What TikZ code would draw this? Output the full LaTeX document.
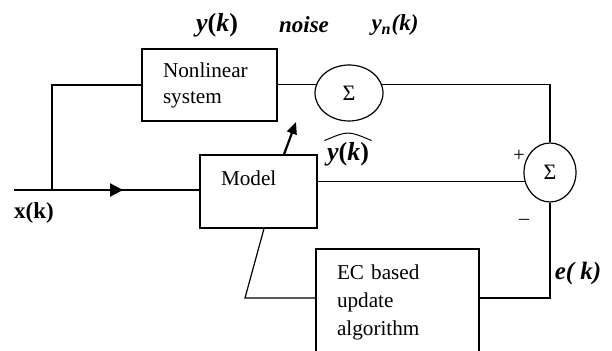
\documentclass[tikz,border=0pt]{standalone}
\usepackage{fontspec}
\setmainfont{Liberation Serif}
\usetikzlibrary{shapes.geometric,arrows.meta}
\tikzset{
  block/.style  = {shape=rectangle, draw, line width=0.6pt, align=left,
                   inner xsep=10.5pt, font=\fontsize{10.6}{13}\selectfont},
  summer/.style = {shape=ellipse, draw, line width=0.6pt, inner sep=0pt,
                   font=\fontsize{11}{12}\selectfont},
  lbl/.style    = {inner sep=0pt, font=\fontsize{11.5}{13}\selectfont\bfseries},
  biglbl/.style = {lbl, font=\fontsize{13}{14}\selectfont\bfseries},
  sign/.style   = {inner sep=0pt, font=\fontsize{10}{12}\selectfont}
}

\begin{document}
\begin{tikzpicture}[x=0.5pt, y=-0.5pt, line width=0.6pt]
  \useasboundingbox (0,0) rectangle (612,351);
  \clip (0,0) rectangle (612,351);
  % blocks
  \node [block, minimum width=67.5pt, minimum height=36pt, text width=46.5pt]
        (nl) at (209.5,85) {Nonlinear\\system};
  \node [block, minimum width=58.5pt, minimum height=36.5pt, text width=37.5pt]
        (model) at (258.5,191.5) {Model\\~};
  \node [block, minimum width=81.5pt, minimum height=53.5pt, text width=60.5pt,
         font=\fontsize{10.6}{14}\selectfont]
        (ec) at (397.5,302.5) {EC based\\update\\algorithm};
  \node [summer, minimum width=34pt, minimum height=28pt] (sum1) at (349,93) {Σ};
  \node [summer, minimum width=26pt, minimum height=29.5pt] (sum2) at (550,172.5) {Σ};
  % labels
  \node [biglbl] (yk)    at (217,25)  {\textit{y}(\textit{k})};
  \node [lbl] (noise) at (304,25)  {\textit{noise}};
  \node [lbl] (yn)    at (395,25)  {\textit{y\textsubscript{n}(k)}};
  \node [biglbl] (yhat)  at (348,154) {\textit{y}(\textit{k})};
  \draw [line width=0.5pt] ([shift={(-1pt,0.5pt)}]yhat.north west)
        .. controls ([yshift=5.5pt]yhat.north) .. ([shift={(1pt,0.5pt)}]yhat.north east);
  \node [lbl] (xk)    at (34,213)  {x(k)};
  \node [lbl, font=\fontsize{12.5}{14}\selectfont\bfseries] (ek) at (578,273) {\textit{e( k)}};
  \node [sign] (plus)  at (519,156) {+};
  \node [sign] (minus) at (524,222) {--};
  % free ends
  \coordinate (xin)  at (14,190);
  \coordinate (arr)  at (123,190);
  \coordinate (br)   at (52,190);
  \coordinate (tip)  at (296,122);
  \coordinate (bend) at (245,298);
  % connectors
  \draw (xin) -- (xin -| model.west);
  \draw [line width=1.1pt, -{Triangle[length=6.5pt, width=6.5pt]}] (xin) -- (arr);
  \draw (br) |- (nl.west);
  \draw (sum1.166 -| nl.east) -- (sum1.166);
  \draw (sum1.14) -| (sum2.north);
  \draw (model.east |- sum2.199) -- (sum2.199);
  \draw (sum2.south) |- ([yshift=2.25pt]ec.east);
  \draw ([xshift=2.75pt]model.south) -- (bend) -- (bend -| ec.west);
  \draw [line width=1.1pt, -{Triangle[length=6pt, width=5pt]}]
        ([xshift=12.75pt]model.north) -- (tip);
\end{tikzpicture}
\end{document}
